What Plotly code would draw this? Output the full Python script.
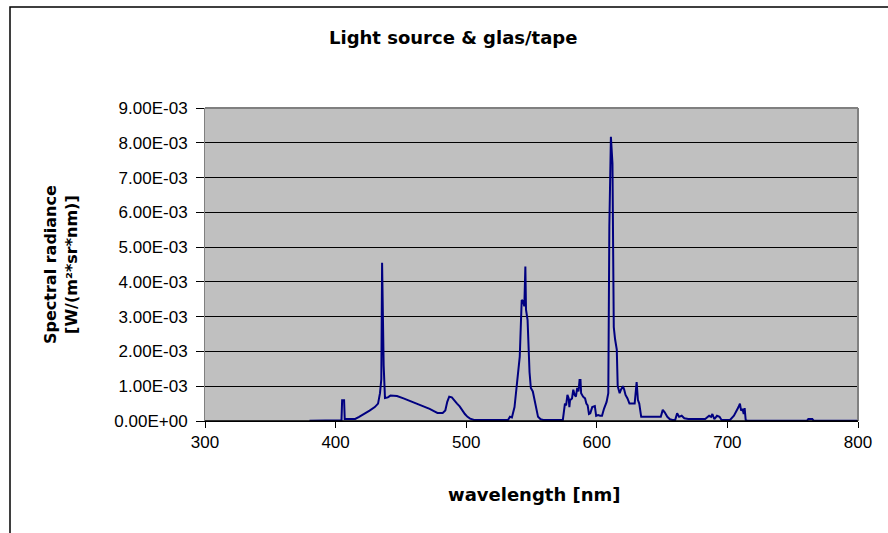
import numpy as np
import plotly.graph_objects as go

wavelength_nm = [380, 404.5, 405, 406.5, 407, 415, 418, 422, 426, 430, 432.5, 434, 435, 435.6, 436.2, 436.8,
                 437.8, 440, 442, 447, 452, 457, 462, 467, 472, 476, 478, 482, 484, 485.5, 487, 489, 491, 493,
                 495, 497, 499, 501, 503, 506, 532, 533.5, 535, 537, 538.7, 540, 541, 542.5, 543.5, 544.5,
                 545.3, 545.8, 547, 548.5, 549.5, 551, 552.5, 554, 555, 557, 559, 574, 575, 575.6, 576.5,
                 577.5, 578.5, 579, 579.5, 581, 582, 583, 584, 585, 586, 586.8, 587.5, 588, 589.5, 591, 592,
                 593, 594, 595, 596.5, 598.5, 599.5, 601, 602.5, 604, 605.5, 607.5, 608.8, 609.6, 610.8,
                 611.3, 612, 612.6, 613, 614, 615.3, 616, 617.5, 618.5, 620, 621, 622, 623.5, 625, 629,
                 630.5, 631.5, 632.5, 634, 649, 650.5, 652, 654, 656, 658, 660, 661.5, 663, 665, 667, 670,
                 678, 680, 683, 686, 687.5, 688.5, 690, 692, 694, 695.5, 702, 705, 707, 708.5, 709.6, 710.5,
                 711.5, 712.5, 713.2, 714, 715, 761, 762, 765, 766, 800]
# spectral radiance in units of 1E-03 W/(m²*sr*nm)
radiance_e3 = [0.01, 0.02, 0.6, 0.6, 0.06, 0.06, 0.12, 0.2, 0.3, 0.4, 0.5, 0.8, 1.2, 4.55, 3.0, 1.6,
               0.66, 0.68, 0.73, 0.72, 0.65, 0.58, 0.5, 0.43, 0.35, 0.27, 0.23, 0.23, 0.3, 0.55, 0.7, 0.68,
               0.58, 0.5, 0.42, 0.3, 0.2, 0.12, 0.07, 0.03, 0.03, 0.12, 0.1, 0.4, 1.0, 1.4, 1.85, 3.48, 3.45,
               3.3, 4.44, 3.2, 2.9, 1.4, 0.95, 0.85, 0.6, 0.35, 0.12, 0.05, 0.03, 0.03, 0.3, 0.5, 0.45, 0.75,
               0.65, 0.4, 0.6, 0.65, 0.9, 0.75, 0.7, 0.95, 0.85, 1.18, 1.18, 0.8, 0.7, 0.65, 0.5, 0.45, 0.2,
               0.22, 0.4, 0.43, 0.15, 0.17, 0.15, 0.15, 0.35, 0.55, 0.8, 5.6, 8.17, 7.9, 7.4, 4.5, 2.7, 2.35,
               2.05, 1.0, 0.8, 0.9, 1.0, 0.9, 0.75, 0.65, 0.5, 0.5, 1.12, 0.6, 0.5, 0.12, 0.12, 0.32, 0.25,
               0.12, 0.05, 0.03, 0.03, 0.22, 0.12, 0.15, 0.08, 0.06, 0.06, 0.08, 0.06, 0.15, 0.12, 0.2, 0.05,
               0.15, 0.12, 0.03, 0.03, 0.15, 0.27, 0.4, 0.5, 0.3, 0.35, 0.2, 0.37, 0.03, 0.01, 0.01, 0.06,
               0.06, 0.01, 0.01]
radiance = np.array(radiance_e3) * 1e-3

x_ticks = [300, 400, 500, 600, 700, 800]
y_tickvals = [0, 1e-3, 2e-3, 3e-3, 4e-3, 5e-3, 6e-3, 7e-3, 8e-3, 9e-3]
y_ticktext = ["0.00E+00", "1.00E-03", "2.00E-03", "3.00E-03", "4.00E-03",
              "5.00E-03", "6.00E-03", "7.00E-03", "8.00E-03", "9.00E-03"]

FONT = "Liberation Sans, Arial, sans-serif"
BOLD = "DejaVu Sans, sans-serif"

fig = go.Figure()
fig.add_trace(go.Scatter(x=wavelength_nm, y=radiance, mode="lines",
                         line=dict(color="#000080", width=2), hoverinfo="x+y"))

L, R, T, B = 205, 858, 108, 421
W, H = 888, 533
pw, ph = R - L, B - T

def px(x):
    return (x - L) / pw

def py(y):
    return (B - y) / ph

fig.update_layout(
    width=W, height=H,
    margin=dict(l=L, r=W - R, t=T, b=H - B),
    paper_bgcolor="white", plot_bgcolor="#C0C0C0",
    showlegend=False,
    font=dict(family=FONT, color="black", size=17),
    xaxis=dict(range=[300, 800], tickvals=x_ticks, ticks="outside", ticklen=6,
               tickcolor="black", showline=True, linecolor="black", linewidth=1,
               showgrid=False, zeroline=False, tickfont=dict(size=17)),
    yaxis=dict(range=[0, 9e-3], tickvals=y_tickvals, ticktext=y_ticktext, ticks="outside",
               ticklen=8, tickcolor="black", showline=True, linecolor="#808080", linewidth=1,
               showgrid=True, gridcolor="black", gridwidth=1, zeroline=False,
               ticklabelstandoff=5, tickfont=dict(size=17)),
    shapes=[
        dict(type="rect", xref="paper", yref="paper", x0=px(10), x1=px(900), y0=py(560), y1=py(7),
             line=dict(color="black", width=1.5), fillcolor="rgba(0,0,0,0)", layer="below"),
        dict(type="line", xref="paper", yref="paper", x0=0, x1=1, y0=1, y1=1,
             line=dict(color="#808080", width=2)),
        dict(type="line", xref="paper", yref="paper", x0=1, x1=1, y0=0, y1=1,
             line=dict(color="#808080", width=2)),
        dict(type="line", xref="paper", yref="paper", x0=0, x1=1, y0=0, y1=0,
             line=dict(color="black", width=1.5)),
    ],
    annotations=[
        dict(text="<b>Light source &amp; glas/tape</b>", xref="paper", yref="paper",
             x=px(453), y=py(37), showarrow=False, xanchor="center", yanchor="middle",
             font=dict(size=18, family=BOLD)),
        dict(text="<b>wavelength [nm]</b>", xref="paper", yref="paper",
             x=px(534), y=py(494), showarrow=False, xanchor="center", yanchor="middle",
             font=dict(size=18, family=BOLD)),
        dict(text="<b>Spectral radiance<br>[W/(m²*sr*nm)]</b>", xref="paper", yref="paper",
             x=px(61), y=py(265), showarrow=False, xanchor="center", yanchor="middle",
             textangle=-90, font=dict(size=16, family=BOLD)),
    ],
)

fig.write_html("out.html")
